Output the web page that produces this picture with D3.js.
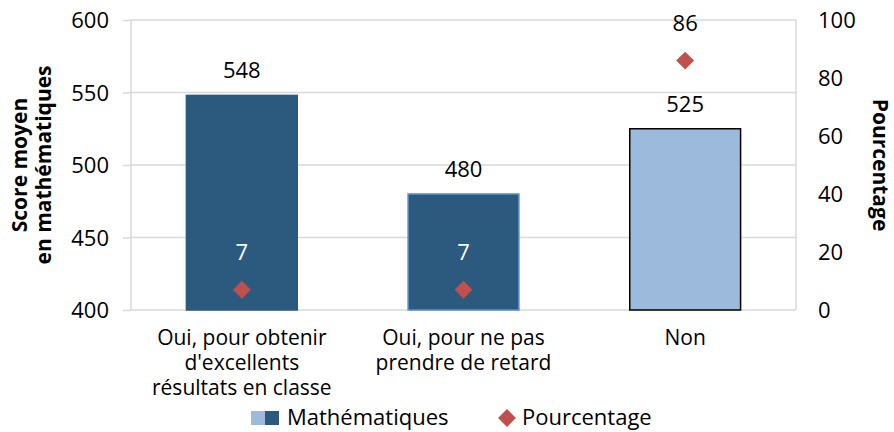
<!DOCTYPE html>
<meta charset="utf-8" />
<style>
  body { margin: 0; background: #fff; }
  text { font-family: "Open Sans", "Noto Sans", sans-serif; fill: #000; }
  .grid line { stroke: #d9d9d9; stroke-width: 1.5px; }
</style>
<body>
  <script src="https://d3js.org/d3.v7.min.js"></script>
  <script>
    // data
    var categories = [
      ['Oui, pour obtenir', "d'excellents", 'résultats en classe'],
      ['Oui, pour ne pas', 'prendre de retard'],
      ['Non']
    ];
    var scores = [548, 480, 525];
    var percents = [7, 7, 86];
    var leftTicks = [400, 450, 500, 550, 600];
    var rightTicks = [0, 20, 40, 60, 80, 100];

    var barFill = ['#2c5a7e', '#2c5a7e', '#9bbadc'];
    var barStroke = ['#2c5a7e', '#5b8fc8', '#000'];
    var labelFill = ['#fff', '#fff', '#000'];

    var margin = { top: 20, right: 98, bottom: 122, left: 131 },
      width = 894 - margin.left - margin.right,
      height = 432 - margin.top - margin.bottom;

    var svg = d3.select('body').append('svg')
      .attr('width', 894)
      .attr('height', 432);

    var g = svg.append('g')
      .attr('transform', 'translate(' + margin.left + ',' + margin.top + ')');

    var x = d3.scaleBand().domain(d3.range(categories.length)).range([0, width])
      .paddingInner(0.5).paddingOuter(0.25);
    var y = d3.scaleLinear().domain([400, 600]).range([height, 0]);
    var y2 = d3.scaleLinear().domain([0, 100]).range([height, 0]);

    // gridlines
    g.append('g').attr('class', 'grid')
      .selectAll('line').data(leftTicks).enter().append('line')
      .attr('x1', 0).attr('x2', width)
      .attr('y1', function(d) { return y(d); })
      .attr('y2', function(d) { return y(d); });

    // frame verticals
    g.append('line').attr('x1', 0).attr('x2', 0).attr('y1', 0).attr('y2', height)
      .attr('stroke', '#d9d9d9').attr('stroke-width', 1.5);
    g.append('line').attr('x1', width).attr('x2', width).attr('y1', 0).attr('y2', height)
      .attr('stroke', '#d9d9d9').attr('stroke-width', 1.5);

    // left axis
    var ax = g.append('g')
      .call(d3.axisLeft(y).tickValues(leftTicks).tickSize(8).tickPadding(14));
    ax.select('.domain').remove();
    ax.selectAll('line').attr('stroke', '#d9d9d9').attr('stroke-width', 1.5);
    ax.selectAll('text').style('font-size', '22px').attr('dy', '0.35em');

    // right axis
    var ax2 = g.append('g')
      .attr('transform', 'translate(' + width + ',0)')
      .call(d3.axisRight(y2).tickValues(rightTicks).tickSize(0).tickPadding(22));
    ax2.select('.domain').remove();
    ax2.selectAll('text').style('font-size', '22px').attr('dy', '0.35em');

    // bars
    g.selectAll('.bar').data(scores).enter().append('rect')
      .attr('x', function(d, i) { return x(i); })
      .attr('width', x.bandwidth())
      .attr('y', function(d) { return y(d); })
      .attr('height', function(d) { return height - y(d); })
      .attr('fill', function(d, i) { return barFill[i]; })
      .attr('stroke', function(d, i) { return barStroke[i]; })
      .attr('stroke-width', 1.5);

    // score labels
    g.selectAll('.slabel').data(scores).enter().append('text')
      .attr('x', function(d, i) { return x(i) + x.bandwidth() / 2; })
      .attr('y', function(d) { return y(d) - 17; })
      .attr('text-anchor', 'middle')
      .style('font-size', '22px')
      .text(function(d) { return d; });

    // diamonds
    var diamond = d3.symbol().type(d3.symbolSquare).size(160);
    g.selectAll('.dia').data(percents).enter().append('path')
      .attr('d', diamond)
      .attr('transform', function(d, i) {
        return 'translate(' + (x(i) + x.bandwidth() / 2) + ',' + y2(d) + ') rotate(45)';
      })
      .attr('fill', '#c0504d');

    // percent labels
    g.selectAll('.plabel').data(percents).enter().append('text')
      .attr('x', function(d, i) { return x(i) + x.bandwidth() / 2; })
      .attr('y', function(d) { return y2(d) - 30; })
      .attr('text-anchor', 'middle')
      .style('font-size', '22px')
      .style('fill', function(d, i) { return labelFill[i]; })
      .text(function(d) { return d; });

    // category labels
    categories.forEach(function(lines, i) {
      var t = g.append('text')
        .attr('text-anchor', 'middle')
        .attr('x', x(i) + x.bandwidth() / 2)
        .attr('y', height + 35)
        .style('font-size', '21px');
      lines.forEach(function(l, j) {
        t.append('tspan').attr('x', x(i) + x.bandwidth() / 2)
          .attr('dy', j === 0 ? 0 : 25).text(l);
      });
    });

    // axis titles
    var lt = svg.append('text')
      .attr('transform', 'translate(27,' + (margin.top + height / 2) + ') rotate(-90)')
      .attr('text-anchor', 'middle')
      .style('font-size', '21px').style('font-weight', 'bold');
    lt.append('tspan').attr('x', 0).attr('dy', 0).text('Score moyen');
    lt.append('tspan').attr('x', 0).attr('dy', 24).text('en mathématiques');

    svg.append('text')
      .attr('transform', 'translate(873,' + (margin.top + height / 2) + ') rotate(90)')
      .attr('text-anchor', 'middle')
      .style('font-size', '21px').style('font-weight', 'bold')
      .text('Pourcentage');

    // legend
    var leg = svg.append('g');
    leg.append('rect').attr('x', 251).attr('y', 411).attr('width', 14).attr('height', 14).attr('fill', barFill[2]);
    leg.append('rect').attr('x', 265).attr('y', 411).attr('width', 14).attr('height', 14).attr('fill', barFill[0]);
    leg.append('text').attr('x', 287).attr('y', 417).attr('dy', '0.35em')
      .style('font-size', '22px').text('Mathématiques');
    leg.append('path').attr('d', diamond)
      .attr('transform', 'translate(507,418) rotate(45)')
      .attr('fill', '#c0504d');
    leg.append('text').attr('x', 522).attr('y', 417).attr('dy', '0.35em')
      .style('font-size', '22px').text('Pourcentage');
  </script>
</body>
